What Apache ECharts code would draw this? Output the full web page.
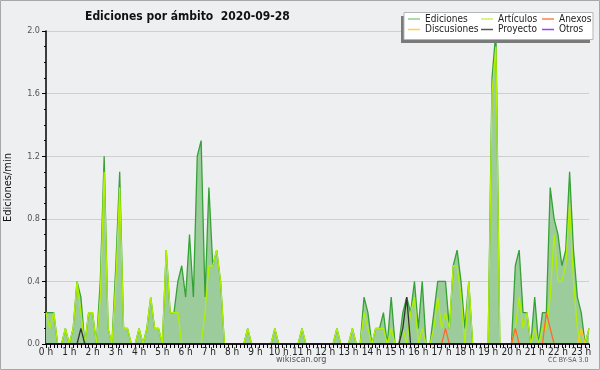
<!DOCTYPE html>
<html><head><meta charset="utf-8">
<script src="https://cdn.jsdelivr.net/npm/echarts@6/dist/echarts.min.js"></script>
<style>html,body{margin:0;padding:0;background:#eeeff0}#c{width:600px;height:370px}</style>
</head><body><div id="c"></div>
<script>
// 10-minute slots from 00:00 to 23:20
const hourLabels = ['0 h','1 h','2 h','3 h','4 h','5 h','6 h','7 h','8 h','9 h','10 h','11 h','12 h','13 h','14 h','15 h','16 h','17 h','18 h','19 h','20 h','21 h','22 h','23 h'];
const seriesNames = ['Ediciones','Artículos','Anexos','Discusiones','Proyecto','Otros'];
const yTicks = [0, 0.4, 0.8, 1.2, 1.6, 2.0];

const ediciones = [
0.2,0.2,0.2,0,0,0.1,0,0.1,0.4,0.3,0,0.2,
0.2,0,0.4,1.2,0.1,0,0.5,1.1,0.1,0.1,0,0,
0.1,0,0.1,0.3,0.1,0.1,0,0.6,0.2,0.2,0.4,0.5,
0.3,0.7,0.3,1.2,1.3,0.3,1.0,0.5,0.6,0.4,0,0,
0,0,0,0,0.1,0,0,0,0,0,0,0.1,
0,0,0,0,0,0,0.1,0,0,0,0,0,
0,0,0,0.1,0,0,0,0.1,0,0,0.3,0.2,
0,0.1,0.1,0.2,0,0.3,0,0,0.2,0.3,0.2,0.4,
0.1,0.4,0,0,0.2,0.4,0.4,0.4,0.1,0.5,0.6,0.4,
0.1,0.4,0,0,0,0,0,1.7,2.0,0,0,0,
0,0.5,0.6,0.2,0.2,0,0.3,0,0.2,0.2,1.0,0.8,
0.7,0.5,0.6,1.1,0.6,0.3,0.2,0,0.1];

const articulos = [
0.2,0.1,0.2,0,0,0.1,0,0.1,0.4,0.2,0,0.2,
0.2,0,0.3,1.1,0.1,0,0.4,1.0,0.1,0.1,0,0,
0.1,0,0.1,0.3,0.1,0.1,0,0.6,0.2,0.2,0.2,0,
0,0,0,0,0,0.2,0.5,0.5,0.6,0.4,0,0,
0,0,0,0,0.1,0,0,0,0,0,0,0.1,
0,0,0,0,0,0,0.1,0,0,0,0,0,
0,0,0,0.1,0,0,0,0.1,0,0,0.2,0.1,
0,0.1,0.1,0.1,0,0.1,0,0,0.1,0,0.2,0.3,
0,0.1,0,0,0.1,0.3,0.1,0.2,0.1,0.5,0.5,0.3,
0,0.4,0,0,0,0,0,1.6,1.9,0,0,0,
0,0.1,0.3,0.1,0.2,0,0.1,0,0.1,0.1,0.3,0.7,
0.4,0.4,0.5,0.9,0.4,0.1,0,0,0.1];

const anexos = [
0,0,0,0,0,0,0,0,0,0,0,0,
0,0,0,0,0,0,0,0,0,0,0,0,
0,0,0,0,0,0,0,0,0,0,0,0,
0,0,0,0,0,0,0,0,0,0,0,0,
0,0,0,0,0,0,0,0,0,0,0,0,
0,0,0,0,0,0,0,0,0,0,0,0,
0,0,0,0,0,0,0,0,0,0,0,0,
0,0,0,0,0,0,0,0,0,0,0,0,
0,0,0,0,0,0,0,0.1,0,0,0,0,
0,0,0,0,0,0,0,0,0,0,0,0,
0,0.1,0,0,0,0,0,0,0,0.2,0.1,0,
0,0,0,0,0,0,0,0,0];

const discusiones = [
0,0,0,0,0,0,0,0,0,0,0,0,
0,0,0,0,0,0,0,0,0,0,0,0,
0,0,0,0,0,0,0,0,0,0,0,0,
0,0,0,0,0,0,0,0,0,0,0,0,
0,0,0,0,0,0,0,0,0,0,0,0,
0,0,0,0,0,0,0,0,0,0,0,0,
0,0,0,0,0,0,0,0,0,0,0,0,
0,0,0,0,0,0,0,0,0,0,0,0,
0,0,0,0,0,0,0,0,0,0,0,0,
0,0,0,0,0,0,0,0,0,0,0,0,
0,0,0,0,0,0,0,0,0,0,0,0,
0,0,0,0,0,0,0.1,0,0];

const proyecto = [
0,0,0,0,0,0,0,0,0,0.1,0,0,
0,0,0,0,0,0,0,0,0,0,0,0,
0,0,0,0,0,0,0,0,0,0,0,0,
0,0,0,0,0,0,0,0,0,0,0,0,
0,0,0,0,0,0,0,0,0,0,0,0,
0,0,0,0,0,0,0,0,0,0,0,0,
0,0,0,0,0,0,0,0,0,0,0,0,
0,0,0,0,0,0,0,0,0.1,0.3,0,0,
0,0,0,0,0,0,0,0,0,0,0,0,
0,0,0,0,0,0,0,0,0,0,0,0,
0,0,0,0,0,0,0,0,0,0,0,0,
0,0,0,0,0,0,0,0,0];

const otros = [
0,0,0,0,0,0,0,0,0,0,0,0,
0,0,0,0,0,0,0,0,0,0,0,0,
0,0,0,0,0,0,0,0,0,0,0,0,
0,0,0,0,0,0,0,0,0,0,0,0,
0,0,0,0,0,0,0,0,0,0,0,0,
0,0,0,0,0,0,0,0,0,0,0,0,
0,0,0,0,0,0,0,0,0,0,0,0,
0,0,0,0,0,0,0,0,0,0,0,0,
0,0,0,0,0,0,0,0,0,0,0,0,
0,0,0,0,0,0,0,0,0,0,0,0,
0,0,0,0,0,0,0,0,0,0,0,0,
0,0,0,0,0,0,0,0,0];

const categories = ediciones.map((_, i) => {
  const h = Math.floor(i / 6), m = (i % 6) * 10;
  return String(h).padStart(2,'0') + ':' + String(m).padStart(2,'0');
});

const F = "'Liberation Sans Narrow','DejaVu Sans Condensed','Liberation Sans',sans-serif";
const colors = {
  'Ediciones':'#34a234', 'Artículos':'#b0f000', 'Anexos':'#ff6a2a',
  'Discusiones':'#ffc820', 'Proyecto':'#333333', 'Otros':'#9a40ff'
};
const legendColors = {
  'Ediciones':'#8fd08f', 'Artículos':'#c8f060', 'Anexos':'#ff7f50',
  'Discusiones':'#ffd040', 'Proyecto':'#555555', 'Otros':'#9a40ff'
};
const values = {
  'Ediciones':ediciones, 'Artículos':articulos, 'Anexos':anexos,
  'Discusiones':discusiones, 'Proyecto':proyecto, 'Otros':otros
};

function mkLegend(names, left) {
  return {
    orient:'vertical', left:left, top:14, padding:0, itemGap:0.5,
    itemWidth:12, itemHeight:1.5, icon:'rect', z:20,
    textStyle:{fontFamily:F, fontSize:10, lineHeight:10, color:'#222', padding:[0,0,0,0]},
    data: names.map(n => ({name:n, itemStyle:{color:legendColors[n]}}))
  };
}

const chart = echarts.init(document.getElementById('c'), null, {renderer:'canvas'});
chart.setOption({
  animation:false,
  backgroundColor:'#eeeff0',
  title:{ text:'Ediciones por ámbito  2020-09-28', left:80, top:6,
    textStyle:{fontFamily:F, fontSize:12, fontWeight:'bold', color:'#111'} },
  grid:{ left:46, right:11, top:31, bottom:26, containLabel:false, outerBoundsMode:'none' },
  legend:[ mkLegend(['Ediciones','Discusiones'],408), mkLegend(['Artículos','Proyecto'],481), mkLegend(['Anexos','Otros'],542) ],
  xAxis:{
    type:'category', data:categories, boundaryGap:false, z:5,
    axisLine:{ lineStyle:{color:'#000', width:1.5} },
    axisTick:{ interval:0, length:4, lineStyle:{color:'#000'} },
    axisLabel:{ interval:5, margin:3, fontFamily:F, fontSize:10, color:'#222',
      formatter:(v, idx) => (idx % 6 === 0 ? hourLabels[idx/6] : '') },
    splitLine:{show:false}
  },
  yAxis:{
    type:'value', min:0, max:2.0, interval:0.4,
    name:'Ediciones/min', nameLocation:'middle', nameRotate:90, nameGap:32,
    nameTextStyle:{fontFamily:F, fontSize:11, color:'#111'},
    axisLine:{ show:true, lineStyle:{color:'#000', width:1.5} },
    axisTick:{ show:true, length:4, lineStyle:{color:'#000'} },
    minorTick:{ show:true, splitNumber:4, length:2, lineStyle:{color:'#000'} },
    axisLabel:{ margin:6, fontFamily:F, fontSize:9, color:'#555',
      formatter:v => (yTicks.some(t => Math.abs(t - v) < 1e-9) ? v.toFixed(1) : '') },
    splitLine:{ lineStyle:{color:'#cfcfcf', width:1} }
  },
  series: seriesNames.map((n, k) => ({
    name:n, type:'line', data:values[n], symbol:'none', z:2 + k*0.01,
    itemStyle:{color:colors[n]},
    lineStyle:{color:colors[n], width:1.3},
    areaStyle: n === 'Ediciones' ? {color:'#9ccc9c', opacity:1} : undefined
  })),
  graphic:[
    { type:'rect', z:10, shape:{x:401, y:16, width:189, height:27}, style:{fill:'#7a7a7a'} },
    { type:'rect', z:11, shape:{x:404, y:12.5, width:189, height:27}, style:{fill:'#ffffff', stroke:'#b5b5b5', lineWidth:1} },
    { type:'text', z:11, left:276, top:355, style:{text:'wikiscan.org', font:"9px 'Liberation Sans Narrow','DejaVu Sans Condensed',sans-serif", fill:'#555'} },
    { type:'text', z:11, left:548, top:357, style:{text:'CC BY-SA 3.0', font:"7px 'Liberation Sans Narrow','DejaVu Sans Condensed',sans-serif", fill:'#555'} },
    { type:'rect', z:12, shape:{x:0.5, y:0.5, width:599, height:369}, style:{fill:'none', stroke:'#a8a8a8', lineWidth:1} }
  ]
});
</script></body></html>
